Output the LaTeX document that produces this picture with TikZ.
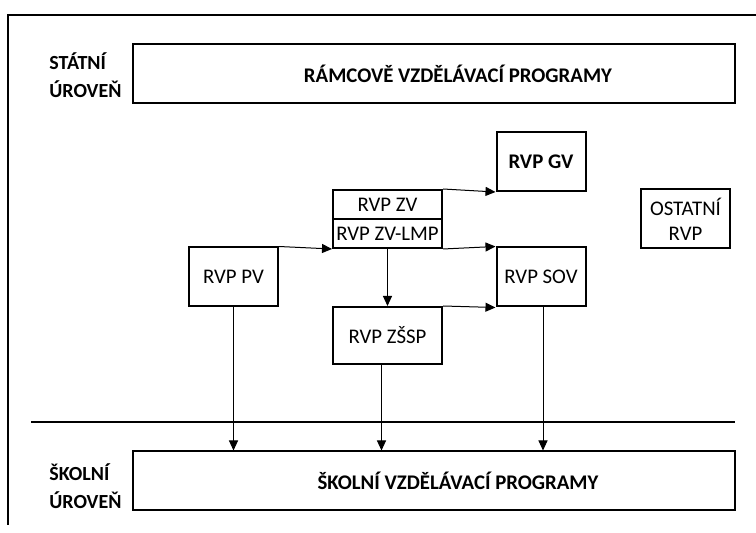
\documentclass[tikz,border=0pt]{standalone}
\usepackage{fontspec}
\setmainfont{Carlito}
\usetikzlibrary{arrows.meta, positioning, calc}
\tikzset{
    box/.style={rectangle, draw, line width=1pt, inner sep=1pt, align=center, font=\fontsize{10.4}{12.5}\selectfont},
    arrow/.style={line width=0.5pt, -{Triangle[length=5pt, width=4.5pt]}}
}

\begin{document}
\begin{tikzpicture}[x=0.5pt, y=-0.5pt,
    widebox/.style={box, minimum width=301pt, minimum height=29.5pt, font=\bfseries\fontsize{10.4}{12.5}\selectfont},
    rvpbox/.style={box, minimum width=44.5pt, minimum height=29.5pt},
    zvbox/.style={box, minimum width=54.5pt, minimum height=14.5pt},
    levellabel/.style={anchor=base west, inner sep=0pt, font=\bfseries\fontsize{10}{12}\selectfont}]
    \useasboundingbox (0,0) rectangle (756,533);

    % Frame and level divider
    \draw [line width=1pt] (8,525) -- (8,15) -- (756,15);
    \draw [line width=1pt] (31,422) -- (735,422);

    % Level labels
    \node (stat1) [levellabel] at (49,70) {STÁTNÍ};
    \node (stat2) [levellabel] at (49,98) {ÚROVEŇ};
    \node (skol1) [levellabel] at (49,481) {ŠKOLNÍ};
    \node (skol2) [levellabel] at (49,509) {ÚROVEŇ};

    % State level
    \node (rvp) [widebox] at (434,73.5) {\hspace*{24pt}RÁMCOVĚ VZDĚLÁVACÍ PROGRAMY};
    \node (gv) [rvpbox, font=\bfseries\fontsize{10.4}{12.5}\selectfont] at (541,161.5) {RVP GV};
    \node (zv) [zvbox] at (387.5,204.5) {RVP ZV};
    \node (lmp) [zvbox, below=-1pt of zv] {RVP ZV-LMP};
    \node (ost) [rvpbox] at (685.5,219) {OSTATNÍ\\RVP};
    \node (pv) [rvpbox] at (233.5,277) {RVP PV};
    \node (sov) [rvpbox] at (541,277) {RVP SOV};
    \node (zssp) [zvbox, minimum height=28.5pt] at (387.5,335.5) {RVP ZŠSP};

    % School level
    \node (svp) [widebox] at (434,481) {\hspace*{24pt}ŠKOLNÍ VZDĚLÁVACÍ PROGRAMY};

    % Arrows
    \draw [arrow] (pv.north east) -- (lmp.south west);
    \draw [arrow] (zv.north east) -- (gv.south west);
    \draw [arrow] (lmp.south east) -- (sov.north west);
    \draw [arrow] (zssp.north east) -- (sov.south west);
    \draw [arrow] (lmp.south) -- (zssp.north);

    \draw [arrow] (pv.south) -- (pv.south |- svp.north);
    \draw [arrow] ([xshift=-3pt]zssp.south) -- ([xshift=-3pt]zssp.south |- svp.north);
    \draw [arrow] ([xshift=1pt]sov.south) -- ([xshift=1pt]sov.south |- svp.north);
\end{tikzpicture}
\end{document}
